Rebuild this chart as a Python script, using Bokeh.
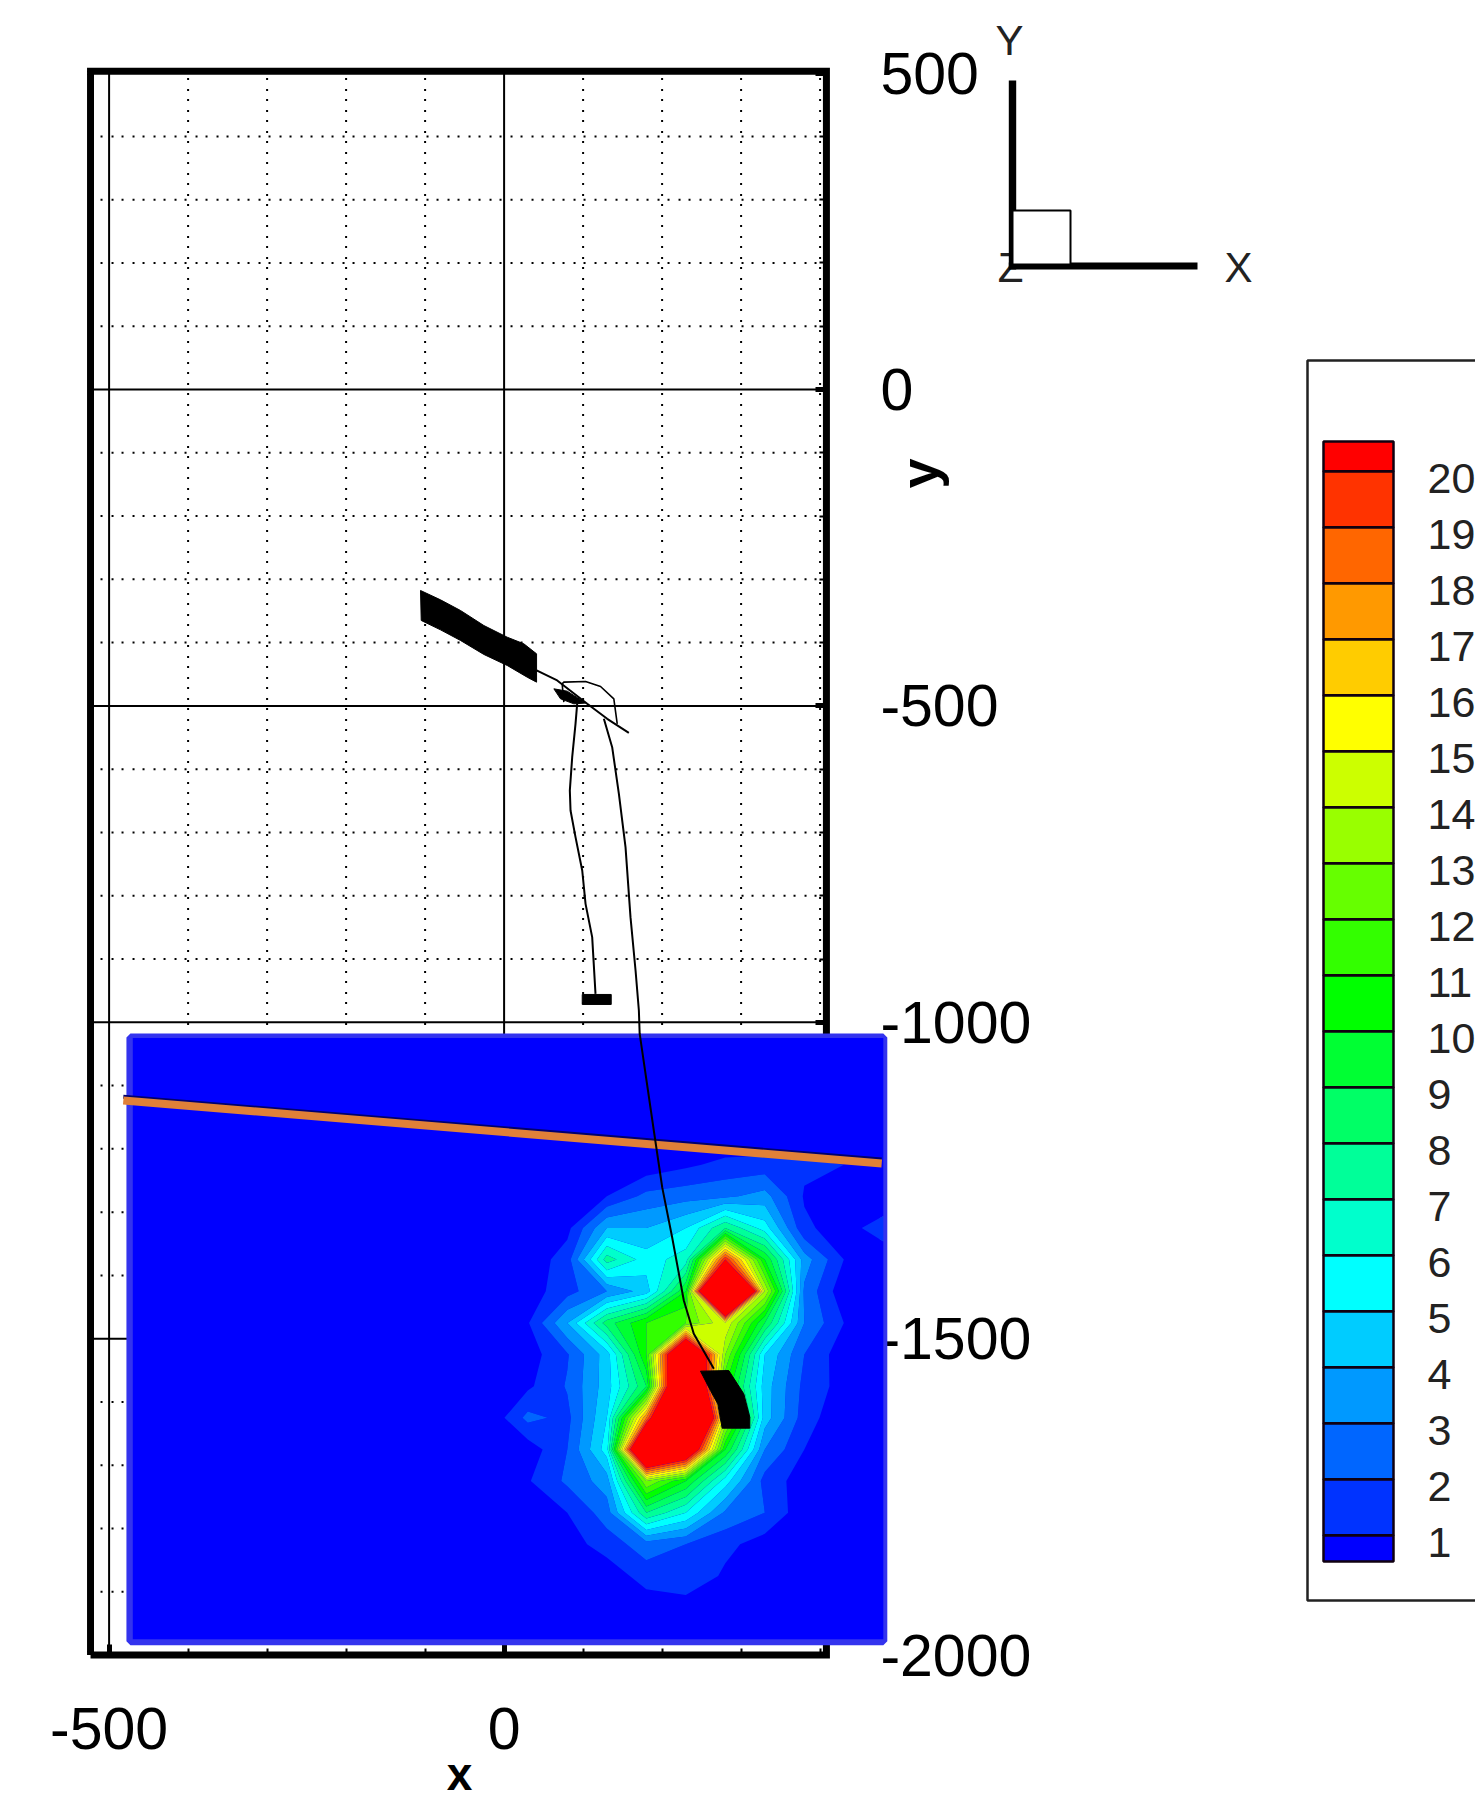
from bokeh.plotting import figure
from bokeh.models import Range1d, LinearAxis, FixedTicker
from bokeh.core.properties import value
from bokeh.embed import file_html
from bokeh.resources import INLINE
import numpy as np

W, H = 1475, 1800
OFF = 0   # page offset of the canvas

# ---- data ----
x_major = [-500, 0]
x_minor = [-400, -300, -200, -100, 100, 200, 300, 400]
y_major = [500, 0, -500, -1000, -1500, -2000]
y_minor = [400, 300, 200, 100, -100, -200, -300, -400, -600, -700, -800, -900,
           -1100, -1200, -1300, -1400, -1600, -1700, -1800, -1900]
levels = list(range(1, 21))
band_colors = ["#0000ff", "#0033ff", "#0066ff", "#0099ff", "#00ccff", "#00ffff", "#00ffcc",
               "#00ff99", "#00ff66", "#00ff33", "#00ff00", "#33ff00", "#66ff00", "#99ff00",
               "#ccff00", "#ffff00", "#ffcc00", "#ff9900", "#ff6600", "#ff3300", "#ff0000"]

# field: nodes every 50 units
node_x = [-470 + 50 * i for i in range(20)]
node_y = [-1025 - 50 * j for j in range(20)]
field_first_col = 9
field_first_row = 4
field = [
    [0, 0, 0, 0, .3, .8, 1.3, 1.4, 1.2, 1.0, .3],
    [0, 0, .2, 1.0, 2.3, 2.6, 2.8, 3.4, .9, .3, 0],
    [0, 0, .7, 4, 4, 5, 8, 5.5, 1.2, .5, 1.6],
    [0, .3, 1.5, 7.5, 5.5, 6.5, 20, 10, 3.5, 1.0, .2],
    [0, .5, 1.6, 3, 4.5, 10, 40, 14, 2.8, .3, 0],
    [0, .9, 4, 8.5, 11, 12, 14.9, 9, 3, 1, 0],
    [0, .5, 1.9, 4.5, 11, 28, 13, 5, 2, .4, 0],
    [0, .8, 2.1, 4.5, 9, 30, 11, 4.5, 1.7, .6, 0],
    [.1, 2.3, 1.7, 5, 18, 35, 14, 4.5, 1.5, .2, 0],
    [0, .4, 2, 5.5, 30, 25, 10, 3, 1, 0, 0],
    [0, .9, 2.2, 3.5, 13, 10, 5.5, 1.6, .5, 0, 0],
    [0, .2, 1, 2.5, 8, 6, 2.8, 2, .3, 0, 0],
    [0, 0, .5, 1.5, 2.5, 2, 1.3, .5, 0, 0, 0],
    [0, 0, 0, .3, 1.5, 1.9, .8, 0, 0, 0, 0],
    [0, 0, 0, 0, .3, .4, 0, 0, 0, 0, 0],
]
field_x_bounds = [-473, 480]
field_y_bounds = [-1978, -1024]

orange_x = [-482, 478]
orange_y = [-1123.6, -1223]

band_x = [-105.8, -80.5, -55.2, -25.6, 3.9, 25.0, 41.1, 41.1, 29.2, 3.9, -25.6, -55.2, -80.5, -104.9]
band_y = [-317.6, -332.4, -349.2, -373.0, -391.4, -401.9, -417.7, -462.5, -454.6, -436.1, -418.7, -396.6, -379.8, -365.0]
arrow_x = [63.0, 79.9, 103.1, 88.3, 71.4]
arrow_y = [-473.0, -476.7, -495.6, -496.7, -488.8]
block_a_x = [98.9, 135.6, 135.6, 98.9]
block_a_y = [-956.0, -956.0, -971.8, -971.8]
block_b_x = [248.6, 284.4, 303.4, 311.0, 311.0, 276.0, 270.5, 261.2]
block_b_y = [-1551.3, -1550.3, -1587.1, -1624.0, -1641.4, -1641.4, -1603.0, -1581.9]

track_a_x = [41.1, 67.2, 105.2, 130.5, 157.9]
track_a_y = [-444.0, -459.8, -496.7, -520.4, -542.5]
track_b_x = [75.6, 73.5, 75.6, 103.1, 122.1, 138.9, 143.2]
track_b_y = [-494.1, -465.1, -462.5, -461.4, -469.3, -488.8, -528.3]
track_c_x = [92.5, 90.4, 86.2, 83.2, 84.1, 90.4, 98.9, 103.1, 111.5, 115.7]
track_c_y = [-496.7, -528.3, -581.0, -633.7, -665.3, -707.4, -760.1, -812.8, -865.4, -955.0]
track_d_x = [126.3, 136.8, 145.3, 153.7, 160.0, 166.4, 170.6, 171.6, 189.5, 200.1, 212.7, 227.5, 240.1, 265.5]
track_d_y = [-520.4, -565.2, -638.9, -723.2, -833.8, -918.1, -981.3, -1018, -1171, -1260.5, -1339.6, -1439.6, -1492.3, -1547.6]

# ---- mapping of the main axes on the page ----
PX0, PXS = 503.6, 0.79      # page x of x=0, px per unit
PY0, PYS = 389.0, 0.6328    # page y of y=0, px per unit
frame_x = [-523.5, 408]
frame_y = [-2000, 503]

p = figure(width=W, height=H, output_backend="svg", toolbar_location=None, min_border=0,
           x_range=Range1d((OFF - PX0) / PXS, (OFF + W - PX0) / PXS),
           y_range=Range1d((PY0 - (OFF + H)) / PYS, (PY0 - OFF) / PYS),
           x_axis_type=None, y_axis_type=None, background_fill_color="white",
           border_fill_color="white", outline_line_color=None)
p.xgrid.visible = False
p.ygrid.visible = False

# page-pixel ranges for the triad and the legend, level range for the legend bar
L_TOP, L_STEP = 470.7, 56.0
p.extra_x_ranges = {"page": Range1d(OFF, OFF + W)}
p.extra_y_ranges = {
    "page": Range1d(OFF + H, OFF),
    "level": Range1d(20 - (OFF + H - L_TOP) / L_STEP, 20 - (OFF - L_TOP) / L_STEP),
}

# ---- axes ----
font = value("Liberation Sans")
xaxis = LinearAxis(fixed_location=frame_y[0], bounds=(frame_x[0], frame_x[1]),
                   ticker=FixedTicker(ticks=x_major, minor_ticks=x_minor),
                   major_label_overrides={v: str(v) for v in x_major})
yaxis = LinearAxis(fixed_location=frame_x[1], bounds=(frame_y[0], frame_y[1]),
                   ticker=FixedTicker(ticks=y_major, minor_ticks=y_minor),
                   major_label_overrides={v: str(v) for v in y_major})
for ax, standoff in ((xaxis, 53), (yaxis, 54)):
    ax.level = "underlay"
    ax.axis_line_color = None
    ax.major_tick_in = 11
    ax.major_tick_out = 0
    ax.major_tick_line_width = 5
    ax.major_tick_line_color = "black"
    ax.minor_tick_in = 7
    ax.minor_tick_out = 0
    ax.minor_tick_line_width = 2
    ax.minor_tick_line_color = "black"
    ax.major_label_text_font = "Liberation Sans"
    ax.major_label_text_font_size = "59px"
    ax.major_label_text_color = "black"
    ax.major_label_standoff = standoff
p.add_layout(xaxis, "below")
p.add_layout(yaxis, "right")

# ---- grid and frame ----
DOT = "2 8 2 9"
p.segment(x_minor, [frame_y[0]] * len(x_minor), x_minor, [frame_y[1]] * len(x_minor),
          line_color="black", line_width=2, line_dash=DOT)
p.segment([frame_x[0]] * len(y_minor), y_minor, [frame_x[1]] * len(y_minor), y_minor,
          line_color="black", line_width=2, line_dash=DOT)
p.segment(x_major, [frame_y[0]] * 2, x_major, [frame_y[1]] * 2, line_color="black", line_width=2)
solid_y = y_major[1:-1]
p.segment([frame_x[0]] * len(solid_y), solid_y, [frame_x[1]] * len(solid_y), solid_y,
          line_color="black", line_width=2)
p.line([frame_x[0], frame_x[0], frame_x[1], frame_x[1], frame_x[0]],
       [frame_y[0], frame_y[1], frame_y[1], frame_y[0], frame_y[0]],
       line_color="black", line_width=7, line_join="miter")

# ---- contour field ----
p.quad(left=[field_x_bounds[0]], right=[field_x_bounds[1]],
       bottom=[field_y_bounds[0]], top=[field_y_bounds[1]],
       fill_color="#0000ff", line_color="#3333ee", line_width=8)
z = np.zeros((len(node_y), len(node_x)))
tbl = np.array(field, dtype=float)
z[field_first_row:field_first_row + tbl.shape[0], field_first_col:field_first_col + tbl.shape[1]] = tbl
p.contour(node_x, node_y[::-1], z[::-1], [-1] + levels + [100], fill_color=band_colors, line_color=None)

# ---- overlay line and path ----
p.line(orange_x, [v + 6 for v in orange_y], line_color="#00006e", line_width=4)
p.line(orange_x, orange_y, line_color="#e08038", line_width=8)
for xs, ys, w in ((track_a_x, track_a_y, 2), (track_b_x, track_b_y, 1.6),
                  (track_c_x, track_c_y, 2), (track_d_x, track_d_y, 2)):
    p.line(xs, ys, line_color="black", line_width=w)
for xs, ys in ((band_x, band_y), (arrow_x, arrow_y), (block_a_x, block_a_y), (block_b_x, block_b_y)):
    p.patch(xs, ys, fill_color="black", line_color="black", line_width=1)

# ---- axis titles ----
p.text([918], [473], text=["y"], angle=np.pi / 2, x_range_name="page", y_range_name="page",
       text_align="center", text_baseline="middle", text_font=font, text_font_style="bold",
       text_font_size="54px", text_color="black")
p.text([459], [1773], text=["x"], x_range_name="page", y_range_name="page",
       text_align="center", text_baseline="middle", text_font=font, text_font_style="bold",
       text_font_size="46px", text_color="black")

# ---- triad (page pixels) ----
thin = "#222222"
p.text([1238], [267], text=["X"], x_range_name="page", y_range_name="page", text_align="center",
       text_baseline="middle", text_font=font, text_font_size="42px", text_color=thin)
p.text([1009], [40], text=["Y"], x_range_name="page", y_range_name="page", text_align="center",
       text_baseline="middle", text_font=font, text_font_size="42px", text_color=thin)
p.text([1010], [267], text=["Z"], x_range_name="page", y_range_name="page", text_align="center",
       text_baseline="middle", text_font=font, text_font_size="42px", text_color=thin)
p.quad(left=[1008.3], right=[1015.7], top=[80], bottom=[269], x_range_name="page", y_range_name="page",
       fill_color="black", line_color=None)
p.quad(left=[1008.3], right=[1197], top=[262], bottom=[269], x_range_name="page", y_range_name="page",
       fill_color="black", line_color=None)
p.quad(left=[1012], right=[1070], top=[210], bottom=[264], x_range_name="page", y_range_name="page",
       fill_color="white", line_color="black", line_width=2)

# ---- legend ----
p.quad(left=[1307], right=[1600], top=[360], bottom=[1600], x_range_name="page", y_range_name="page",
       fill_color="white", line_color="#222222", line_width=2.5)
lows = [0.53] + levels
highs = levels + [20.53]
p.quad(left=[1323] * 21, right=[1393] * 21, bottom=lows, top=highs, x_range_name="page", y_range_name="level",
       fill_color=band_colors, line_color="#100010", line_width=2.5)
p.text([1427] * 20, levels, text=[str(v) for v in levels], x_range_name="page", y_range_name="level",
       y_offset=7, text_align="left", text_baseline="middle", text_font=font, text_font_size="43px",
       text_color=thin)

open("out.html", "w").write(file_html(p, INLINE))
